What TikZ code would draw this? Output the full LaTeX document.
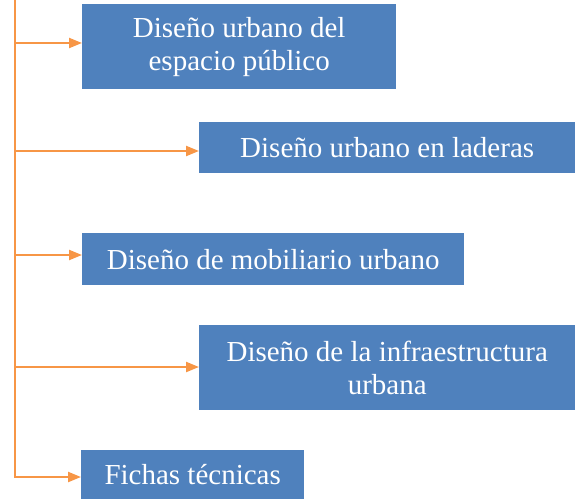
\documentclass[tikz,border=0pt]{standalone}
\usepackage{fontspec}
\setmainfont{Liberation Serif}
\usetikzlibrary{arrows.meta}

\definecolor{boxblue}{RGB}{79,129,189}
\definecolor{linkorange}{RGB}{247,150,70}

\tikzset{
    topic/.style={fill=boxblue, text=white, anchor=north west, inner sep=0pt,
        align=center, font=\fontsize{29}{33}\selectfont},
    link/.style={linkorange, line width=2.2pt,
        -{Triangle[length=13pt,width=10pt]}}
}

\begin{document}
\begin{tikzpicture}[x=1pt,y=1pt]
        \useasboundingbox (0,0) rectangle (575,499);

        \node[topic, minimum width=314, minimum height=85] (box1) at (82,495)
            {Diseño urbano del\\espacio público};
        \node[topic, minimum width=376, minimum height=51] (box2) at (199,377)
            {Diseño urbano en laderas};
        \node[topic, minimum width=382, minimum height=52] (box3) at (82,266)
            {Diseño de mobiliario urbano};
        \node[topic, minimum width=376, minimum height=85] (box4) at (199,174)
            {Diseño de la infraestructura\\urbana};
        \node[topic, minimum width=223, minimum height=49] (box5) at (81,49)
            {Fichas técnicas};

        % trunk
        \coordinate (top) at (15,499);
        \coordinate (bottom) at (15,21);
        \draw[linkorange, line width=2.2pt] (top) -- (bottom);

        \foreach \n/\y in {1/456, 2/348, 3/244, 4/132, 5/22} {
            \coordinate (t\n) at (15,\y);
            \draw[link] (t\n) -- (t\n -| box\n.west);
        }
    \end{tikzpicture}
\end{document}
